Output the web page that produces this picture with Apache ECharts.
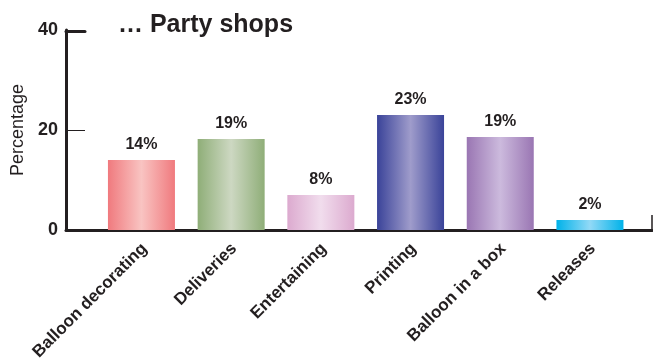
<!DOCTYPE html>
<html>
<head>
<meta charset="utf-8">
<script src="https://cdn.jsdelivr.net/npm/echarts@6/dist/echarts.min.js"></script>
<style>
  html, body { margin: 0; padding: 0; background: #fff; }
  #chart { width: 653px; height: 361px; }
</style>
</head>
<body>
<div id="chart"></div>
<script>
// data
const categories = ['Balloon decorating', 'Deliveries', 'Entertaining', 'Printing', 'Balloon in a box', 'Releases'];
const values = [14, 18.2, 7, 23, 18.6, 2];
const valueLabels = ['14%', '19%', '8%', '23%', '19%', '2%'];
const yTicks = [0, 20, 40];

// edge / middle colours of each bar's sheen
const barEdge = ['#f07a7e', '#8fae78', '#dcaacf', '#3a4399', '#9a76b3', '#00b2e9'];
const barMid = ['#f9c4c2', '#cdd8c2', '#f1dded', '#9f9ccb', '#ccbadd', '#92d9f6'];

const FONT = '"Liberation Sans", Arial, Helvetica, sans-serif';
const INK = '#231f20';

const chart = echarts.init(document.getElementById('chart'));

const barData = values.map((v, i) => ({
  value: v,
  itemStyle: {
    color: new echarts.graphic.LinearGradient(0, 0, 1, 0, [
      { offset: 0, color: barEdge[i] },
      { offset: 0.5, color: barMid[i] },
      { offset: 1, color: barEdge[i] }
    ])
  }
}));

const option = {
  backgroundColor: '#fff',
  animation: false,
  title: {
    text: '\u2026 Party shops',
    left: 113,
    top: 8,
    textStyle: { fontFamily: FONT, fontSize: 25, fontWeight: 'bold', color: INK }
  },
  grid: [
    // frame: y axis + baseline
    { left: 66, right: 1, top: 30, bottom: 131, outerBoundsMode: 'none' },
    // bars
    { left: 96.6, right: 18.2, top: 30, bottom: 131, outerBoundsMode: 'none' },
    // category labels (sit a bit right of the bars)
    { left: 99.6, right: 15.2, top: 30, bottom: 131, outerBoundsMode: 'none' },
    // thick cap at 40
    { left: 66, top: 30, width: 19, height: 1, outerBoundsMode: 'none' }
  ],
  xAxis: [
    {
      gridIndex: 0, type: 'value', min: 0, max: 1, interval: 1,
      axisLine: { show: true, lineStyle: { color: INK, width: 3 } },
      axisTick: { show: true, inside: true, length: 15, lineStyle: { color: INK, width: 1.5 } },
      axisLabel: { show: false },
      splitLine: { show: false }
    },
    {
      gridIndex: 1, type: 'category', data: categories,
      axisLine: { show: false }, axisTick: { show: false },
      axisLabel: { show: false }
    },
    {
      gridIndex: 2, type: 'category', data: categories,
      axisLine: { show: false }, axisTick: { show: false },
      axisLabel: {
        interval: 0, rotate: 45, margin: 16,
        fontFamily: FONT, fontSize: 17, fontWeight: 'bold', color: INK
      }
    },
    {
      gridIndex: 3, type: 'value', position: 'top', min: 0, max: 1,
      axisLine: { show: true, lineStyle: { color: INK, width: 3 } },
      axisTick: { show: false }, axisLabel: { show: false }, splitLine: { show: false }
    }
  ],
  yAxis: [
    {
      gridIndex: 0, type: 'value', min: yTicks[0], max: yTicks[yTicks.length - 1], interval: 20,
      name: 'Percentage', nameLocation: 'middle', nameGap: 39,
      nameTextStyle: { fontFamily: FONT, fontSize: 18, color: INK },
      axisLine: { show: true, lineStyle: { color: INK, width: 3 } },
      axisTick: { show: true, inside: true, length: 19, lineStyle: { color: INK, width: 1 } },
      axisLabel: {
        margin: 8, fontFamily: FONT, fontSize: 18, fontWeight: 'bold', color: INK,
        padding: [6, 0, 0, 0]
      },
      splitLine: { show: false }
    },
    { gridIndex: 1, type: 'value', min: 0, max: 40, show: false },
    { gridIndex: 2, type: 'value', min: 0, max: 40, show: false },
    { gridIndex: 3, type: 'value', min: 0, max: 1, show: false }
  ],
  series: [{
    type: 'bar',
    xAxisIndex: 1,
    yAxisIndex: 1,
    barWidth: 67,
    data: barData,
    label: {
      show: true,
      position: 'top',
      distance: 7,
      formatter: (p) => valueLabels[p.dataIndex],
      fontFamily: FONT, fontSize: 16, fontWeight: 'bold', color: INK
    }
  }]
};

chart.setOption(option);
</script>
</body>
</html>
